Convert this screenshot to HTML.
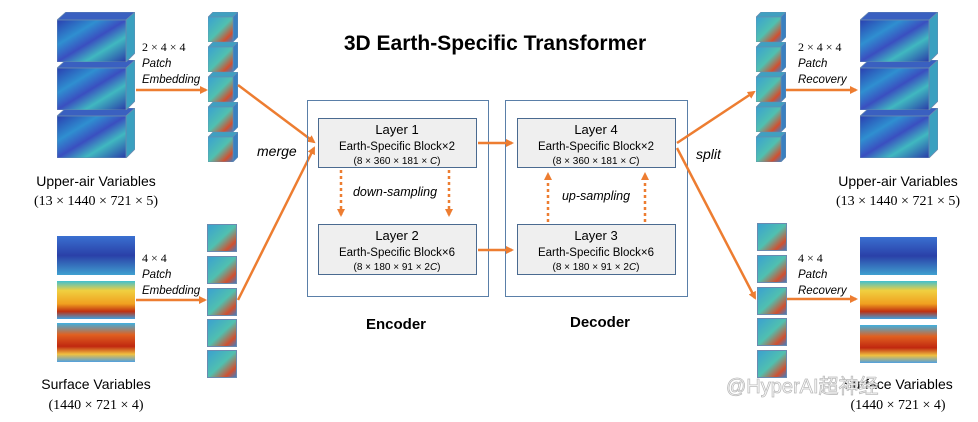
<!DOCTYPE html>
<html><head><meta charset="utf-8"><style>
html,body{margin:0;padding:0;background:#fff}
svg{display:block}
text{font-family:"Liberation Sans",sans-serif}
.s{font-family:"Liberation Serif",serif}
</style></head><body>
<svg width="978" height="422" viewBox="0 0 978 422" xmlns="http://www.w3.org/2000/svg">
<defs>
<linearGradient id="ua" x1="0" y1="0" x2="1" y2="1">
<stop offset="0" stop-color="#2a3fb0"/><stop offset="0.3" stop-color="#2f8fd0"/><stop offset="0.5" stop-color="#3a4fc0"/><stop offset="0.7" stop-color="#40b8c0"/><stop offset="1" stop-color="#2a3aa8"/></linearGradient>
<linearGradient id="sm" x1="0" y1="0" x2="1" y2="1">
<stop offset="0" stop-color="#3aa0d0"/><stop offset="0.5" stop-color="#50c0b0"/><stop offset="0.8" stop-color="#d05030"/><stop offset="1" stop-color="#3a80c8"/></linearGradient>
<linearGradient id="s1" x1="0" y1="0" x2="0" y2="1">
<stop offset="0" stop-color="#3a70d0"/><stop offset="0.5" stop-color="#2a40a8"/><stop offset="1" stop-color="#40a0d0"/></linearGradient>
<linearGradient id="s2" x1="0" y1="0" x2="0" y2="1">
<stop offset="0" stop-color="#40c0d0"/><stop offset="0.25" stop-color="#f0d040"/><stop offset="0.6" stop-color="#f0a020"/><stop offset="0.8" stop-color="#c03010"/><stop offset="1" stop-color="#40a0e0"/></linearGradient>
<linearGradient id="s3" x1="0" y1="0" x2="0" y2="1">
<stop offset="0" stop-color="#40b0e0"/><stop offset="0.3" stop-color="#e06020"/><stop offset="0.6" stop-color="#c02810"/><stop offset="0.8" stop-color="#f0c040"/><stop offset="1" stop-color="#50a0e0"/></linearGradient>
<symbol id="big" viewBox="0 0 78 50" width="78" height="50">
<polygon points="0,8 9,0 78,0 69,8" fill="#3a60c0" stroke="#6a8ab0" stroke-width="0.8"/>
<polygon points="69,8 78,0 78,41 69,50" fill="#3aa0c0" stroke="#6a8ab0" stroke-width="0.8"/>
<rect x="0" y="8" width="69" height="42" fill="url(#ua)" stroke="#6a8ab0" stroke-width="0.8"/>
</symbol>
<symbol id="sc" viewBox="0 0 30 30" width="30" height="30">
<polygon points="0,5 5,0 30,0 25,5" fill="#40a0c0" stroke="#6a8ab0" stroke-width="0.6"/>
<polygon points="25,5 30,0 30,25 25,30" fill="#3a80c0" stroke="#6a8ab0" stroke-width="0.6"/>
<rect x="0" y="5" width="25" height="25" fill="url(#sm)" stroke="#6a8ab0" stroke-width="0.6"/>
</symbol>
<symbol id="sq" viewBox="0 0 30 28" width="30" height="28">
<rect x="0.5" y="0.5" width="29" height="27" fill="url(#sm)" stroke="#6a8ab0"/>
</symbol>
<marker id="ah" markerWidth="8" markerHeight="8" refX="6" refY="4" orient="auto" markerUnits="userSpaceOnUse"><path d="M0,0 L8,4 L0,8 z" fill="#ed7d31"/></marker>
</defs>

<text x="495" y="50" text-anchor="middle" font-size="21" font-weight="bold" fill="#000">3D Earth-Specific Transformer</text>

<!-- left upper cubes -->
<use href="#big" x="57" y="108"/><use href="#big" x="57" y="60"/><use href="#big" x="57" y="12"/>
<use href="#sc" x="208" y="12"/><use href="#sc" x="208" y="42"/><use href="#sc" x="208" y="72"/><use href="#sc" x="208" y="102"/><use href="#sc" x="208" y="132"/>
<text x="96" y="186" text-anchor="middle" font-size="14">Upper-air Variables</text>
<text x="96" y="205" text-anchor="middle" font-size="14" class="s">(13 × 1440 × 721 × 5)</text>
<text x="142" y="51" font-size="12" class="s">2 × 4 × 4</text>
<text x="142" y="67" font-size="11.5" font-style="italic">Patch</text>
<text x="142" y="83" font-size="11.5" font-style="italic">Embedding</text>
<line x1="136" y1="90" x2="206" y2="90" stroke="#ed7d31" stroke-width="2.5" marker-end="url(#ah)"/>

<!-- left surface -->
<rect x="57" y="236" width="78" height="39" fill="url(#s1)"/>
<rect x="57" y="281" width="78" height="38" fill="url(#s2)"/>
<rect x="57" y="323" width="78" height="39" fill="url(#s3)"/>
<use href="#sq" x="207" y="224"/><use href="#sq" x="207" y="256"/><use href="#sq" x="207" y="288"/><use href="#sq" x="207" y="319"/><use href="#sq" x="207" y="350"/>
<text x="96" y="389" text-anchor="middle" font-size="14">Surface Variables</text>
<text x="96" y="409" text-anchor="middle" font-size="14" class="s">(1440 × 721 × 4)</text>
<text x="142" y="262" font-size="12" class="s">4 × 4</text>
<text x="142" y="278" font-size="11.5" font-style="italic">Patch</text>
<text x="142" y="294" font-size="11.5" font-style="italic">Embedding</text>
<line x1="136" y1="300" x2="205" y2="300" stroke="#ed7d31" stroke-width="2.5" marker-end="url(#ah)"/>

<!-- merge -->
<line x1="238" y1="85" x2="314" y2="142" stroke="#ed7d31" stroke-width="2.5" marker-end="url(#ah)"/>
<line x1="238" y1="300" x2="314" y2="148" stroke="#ed7d31" stroke-width="2.5" marker-end="url(#ah)"/>
<text x="257" y="156" font-size="14" font-style="italic">merge</text>

<!-- encoder/decoder -->
<rect x="307.5" y="100.5" width="181" height="196" fill="none" stroke="#5a7fa8" stroke-width="1"/>
<rect x="505.5" y="100.5" width="182" height="196" fill="none" stroke="#5a7fa8" stroke-width="1"/>
<rect x="318.5" y="118.5" width="158" height="49" fill="#efefef" stroke="#4a6a90"/>
<rect x="318.5" y="224.5" width="158" height="50" fill="#efefef" stroke="#4a6a90"/>
<rect x="517.5" y="118.5" width="158" height="49" fill="#efefef" stroke="#4a6a90"/>
<rect x="517.5" y="224.5" width="158" height="50" fill="#efefef" stroke="#4a6a90"/>
<g font-size="13" text-anchor="middle">
<text x="397" y="134">Layer 1</text><text x="397" y="240">Layer 2</text>
<text x="596" y="134">Layer 4</text><text x="596" y="240">Layer 3</text>
</g>
<g font-size="11.5" text-anchor="middle">
<text x="397" y="150">Earth-Specific Block×2</text><text x="397" y="256">Earth-Specific Block×6</text>
<text x="596" y="150">Earth-Specific Block×2</text><text x="596" y="256">Earth-Specific Block×6</text>
</g>
<g font-size="10" text-anchor="middle" class="s">
<text x="397" y="164">(8 × 360 × 181 × <tspan font-style="italic">C</tspan>)</text>
<text x="397" y="270">(8 × 180 × 91 × 2<tspan font-style="italic">C</tspan>)</text>
<text x="596" y="164">(8 × 360 × 181 × <tspan font-style="italic">C</tspan>)</text>
<text x="596" y="270">(8 × 180 × 91 × 2<tspan font-style="italic">C</tspan>)</text>
</g>
<g stroke="#ed7d31" stroke-width="2.5" stroke-dasharray="3,3">
<line x1="341" y1="170" x2="341" y2="215" marker-end="url(#ah)"/>
<line x1="449" y1="170" x2="449" y2="215" marker-end="url(#ah)"/>
<line x1="548" y1="222" x2="548" y2="174" marker-end="url(#ah)"/>
<line x1="645" y1="222" x2="645" y2="174" marker-end="url(#ah)"/>
</g>
<text x="395" y="196" text-anchor="middle" font-size="12.5" font-style="italic">down-sampling</text>
<text x="596" y="200" text-anchor="middle" font-size="12.5" font-style="italic">up-sampling</text>
<line x1="478" y1="143" x2="512" y2="143" stroke="#ed7d31" stroke-width="2.5" marker-end="url(#ah)"/>
<line x1="478" y1="250" x2="512" y2="250" stroke="#ed7d31" stroke-width="2.5" marker-end="url(#ah)"/>
<text x="396" y="329" text-anchor="middle" font-size="15" font-weight="bold">Encoder</text>
<text x="600" y="327" text-anchor="middle" font-size="15" font-weight="bold">Decoder</text>

<!-- split -->
<line x1="677" y1="143" x2="754" y2="92" stroke="#ed7d31" stroke-width="2.5" marker-end="url(#ah)"/>
<line x1="677" y1="148" x2="755" y2="298" stroke="#ed7d31" stroke-width="2.5" marker-end="url(#ah)"/>
<text x="696" y="159" font-size="14" font-style="italic">split</text>

<!-- right upper -->
<use href="#sc" x="756" y="12"/><use href="#sc" x="756" y="42"/><use href="#sc" x="756" y="72"/><use href="#sc" x="756" y="102"/><use href="#sc" x="756" y="132"/>
<use href="#big" x="860" y="108"/><use href="#big" x="860" y="60"/><use href="#big" x="860" y="12"/>
<text x="798" y="51" font-size="12" class="s">2 × 4 × 4</text>
<text x="798" y="67" font-size="11.5" font-style="italic">Patch</text>
<text x="798" y="83" font-size="11.5" font-style="italic">Recovery</text>
<line x1="786" y1="90" x2="856" y2="90" stroke="#ed7d31" stroke-width="2.5" marker-end="url(#ah)"/>
<text x="898" y="186" text-anchor="middle" font-size="14">Upper-air Variables</text>
<text x="898" y="205" text-anchor="middle" font-size="14" class="s">(13 × 1440 × 721 × 5)</text>

<!-- right surface -->
<use href="#sq" x="757" y="223"/><use href="#sq" x="757" y="255"/><use href="#sq" x="757" y="287"/><use href="#sq" x="757" y="318"/><use href="#sq" x="757" y="350"/>
<rect x="860" y="237" width="77" height="38" fill="url(#s1)"/>
<rect x="860" y="281" width="77" height="38" fill="url(#s2)"/>
<rect x="860" y="325" width="77" height="38" fill="url(#s3)"/>
<text x="798" y="262" font-size="12" class="s">4 × 4</text>
<text x="798" y="278" font-size="11.5" font-style="italic">Patch</text>
<text x="798" y="294" font-size="11.5" font-style="italic">Recovery</text>
<line x1="787" y1="299" x2="856" y2="299" stroke="#ed7d31" stroke-width="2.5" marker-end="url(#ah)"/>
<text x="898" y="389" text-anchor="middle" font-size="14">Surface Variables</text>
<text x="898" y="409" text-anchor="middle" font-size="14" class="s">(1440 × 721 × 4)</text>
<text x="726" y="393" font-size="20" fill="#ffffff" stroke="#bbbbbb" stroke-width="0.8" font-family="Liberation Sans, Noto Sans CJK SC, sans-serif">@HyperAI超神经</text>
</svg>
</body></html>
